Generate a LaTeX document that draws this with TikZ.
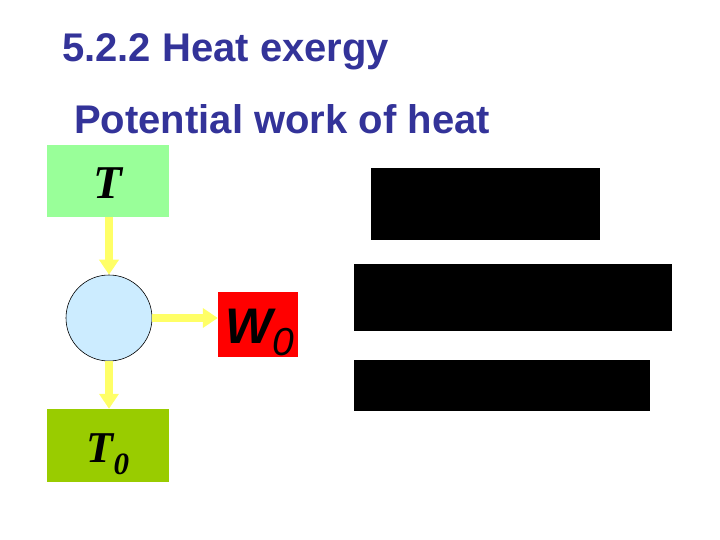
\documentclass[tikz,border=0pt]{standalone}
\usepackage{fontspec}
\setmainfont{Liberation Sans}
\newfontfamily\timesf{Liberation Serif}
\usetikzlibrary{arrows.meta}
\definecolor{titleblue}{HTML}{333399}
\definecolor{lightgreen}{HTML}{99FF99}
\definecolor{olive}{HTML}{99CC00}
\definecolor{lightblue}{HTML}{CCECFF}
\definecolor{arrowyellow}{HTML}{FFFF66}
\definecolor{wred}{HTML}{FF0000}
\tikzset{
  titletext/.style={anchor=base west, inner sep=0pt, text=titleblue, font=\fontsize{40}{48}\selectfont\bfseries},
  tbox/.style={draw=none, minimum width=122pt, minimum height=72pt, inner sep=0pt},
  flow/.style={draw=arrowyellow, line width=8pt, -{Triangle[length=15pt,width=19pt]}},
  blackbar/.style={fill=black, draw=none},
}
\begin{document}
\begin{tikzpicture}[x=1pt,y=-1pt]
\useasboundingbox (0,0) rectangle (720,540);
\node[titletext] (title) at (62,62) {5.2.2 Heat exergy};
\node[titletext] (sub) at (74,134) {Potential work of heat};

\node[tbox, fill=lightgreen, text height=38pt, text depth=2pt] (T) at (108,181) {\timesf\fontsize{47}{47}\selectfont\bfseries\itshape T};
\node[tbox, fill=olive, minimum height=73pt, text height=35pt, text depth=2pt] (T0) at (108,445.5) {\timesf\fontsize{44}{44}\selectfont\bfseries\itshape T\raisebox{-12pt}{\fontsize{31}{31}\selectfont 0}};
\node[circle, draw=black, line width=0.6pt, fill=lightblue, minimum size=86pt, inner sep=0pt] (C) at (109,318) {};
\node[fill=wred, minimum width=80pt, minimum height=65pt, inner sep=0pt, text height=40pt, text depth=3pt] (W) at (258,324.5) {\hspace*{3pt}\fontsize{50}{50}\selectfont\bfseries\itshape W\mdseries\raisebox{-12pt}{\fontsize{39}{39}\selectfont 0}};

\draw[flow] (T.south -| C.north) -- (C.north);
\draw[flow] (C.east) -- (W.west |- C.east);
\draw[flow] (C.south) -- (C.south |- T0.north);

\fill[blackbar] (371,168) rectangle (600,240);
\fill[blackbar] (354,264) rectangle (672,331);
\fill[blackbar] (354,360) rectangle (650,411);
\end{tikzpicture}
\end{document}
